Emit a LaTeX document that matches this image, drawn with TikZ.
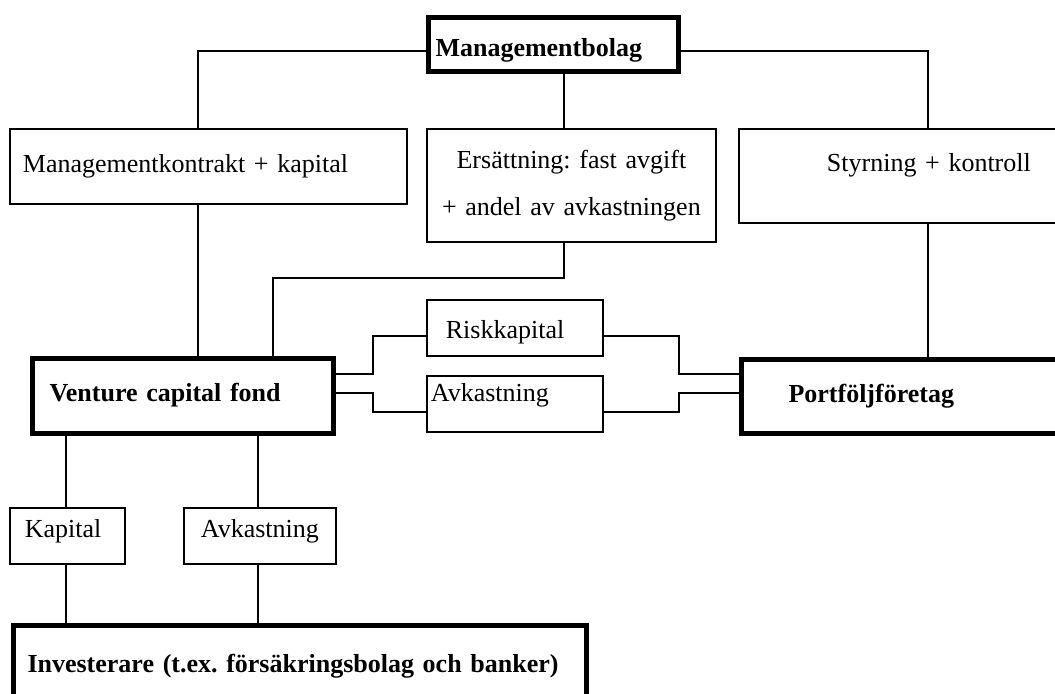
\documentclass[tikz,border=0pt]{standalone}
\usepackage{fontspec}
\setmainfont{Liberation Serif}
\usepackage{tikz}
\frenchspacing
\tikzset{
  box/.style={draw,line width=0.9pt,anchor=north west,inner ysep=0pt,align=left,font=\fontsize{13}{15.6}\selectfont},
  thickbox/.style={box,line width=2.5pt,font=\bfseries\fontsize{13}{15.6}\selectfont},
  conn/.style={line width=0.9pt},
  every picture/.style={x=0.5pt,y=-0.5pt}
}
\begin{document}
\begin{tikzpicture}
  \useasboundingbox (0,0) rectangle (1055,693);
  \clip (0,0) rectangle (1055,693);
  % columns and rows of the connectors
  \coordinate (xa) at (198,0); \coordinate (xb) at (273,0); \coordinate (xc) at (564,0);
  \coordinate (xd) at (928,0); \coordinate (xe) at (66,0); \coordinate (xf) at (258,0);
  \coordinate (ya) at (0,51); \coordinate (yb) at (0,278);
  \coordinate (r1) at (0,336); \coordinate (r2) at (0,374); \coordinate (r3) at (0,393); \coordinate (r4) at (0,412);
  % boxes
  \node[thickbox,minimum width=125pt,minimum height=27pt,inner xsep=3.75pt,text width=117.5pt,text height=15.3pt] (mgmt) at (425.5,14.5) {Managementbolag};
  \node[box,minimum width=198.5pt,minimum height=37.5pt,inner xsep=6.5pt,text width=185.5pt] (kontrakt) at (9,128) {Managementkontrakt + kapital};
  \node[box,minimum width=144.5pt,minimum height=56.5pt,inner xsep=2.25pt,text width=140pt,align=center,font=\fontsize{13}{23.5}\selectfont] (ersatt) at (426,128) {Ersättning: fast avgift\\+ andel av avkastningen};
  \node[box,minimum width=190pt,minimum height=47pt,inner xsep=0pt,text width=190pt,align=center,text depth=13.8pt] (styr) at (738,128) {Styrning + kontroll};
  \node[thickbox,minimum width=150.5pt,minimum height=37.5pt,inner xsep=8.75pt,text width=133pt] (vcfond) at (29.5,355.5) {Venture capital fond};
  \node[box,minimum width=88pt,minimum height=28pt,inner xsep=9.5pt,text width=69pt,text height=12.9pt] (risk) at (426,299) {Riskkapital};
  \node[box,minimum width=88pt,minimum height=28pt,inner xsep=2pt,text width=84pt,text depth=11.8pt] (avkF) at (426,375) {Avkastning};
  \node[thickbox,minimum width=190.75pt,minimum height=37pt,inner xsep=23.75pt,text width=143.25pt] (portf) at (738.5,356.5) {Portföljföretag};
  \node[box,minimum width=57.5pt,minimum height=28pt,inner xsep=7.5pt,text width=42.5pt,text depth=7.8pt] (kap) at (9,507) {Kapital};
  \node[box,minimum width=76pt,minimum height=28pt,inner xsep=2pt,text width=72pt,align=center,text depth=7.8pt] (avkI) at (183,507) {Avkastning};
  \node[thickbox,minimum width=286.5pt,minimum height=41pt,inner xsep=7.25pt,text width=272pt] (inv) at (10.5,622.5) {Investerare (t.ex. försäkringsbolag och banker)};
  % connectors
  \draw[conn] (mgmt.west |- ya) -| (xa |- kontrakt.north);
  \draw[conn] (mgmt.east |- ya) -| (xd |- styr.north);
  \draw[conn] (xc |- mgmt.south) -- (xc |- ersatt.north);
  \draw[conn] (xa |- kontrakt.south) -- (xa |- vcfond.north);
  \draw[conn] (xc |- ersatt.south) |- (xb |- yb) -- (xb |- vcfond.north);
  \draw[conn] (xd |- styr.south) -- (xd |- portf.north);
  \draw[conn] (vcfond.east |- r2) -- ++(37.5,0) |- (risk.west |- r1);
  \draw[conn] (vcfond.east |- r3) -- ++(37.5,0) |- (avkF.west |- r4);
  \draw[conn] (risk.east |- r1) -- ++(75,0) |- (portf.west |- r2);
  \draw[conn] (avkF.east |- r4) -- ++(75,0) |- (portf.west |- r3);
  \draw[conn] (xe |- vcfond.south) -- (xe |- kap.north);
  \draw[conn] (xe |- kap.south) -- (xe |- inv.north);
  \draw[conn] (xf |- vcfond.south) -- (xf |- avkI.north);
  \draw[conn] (xf |- avkI.south) -- (xf |- inv.north);
\end{tikzpicture}
\end{document}
